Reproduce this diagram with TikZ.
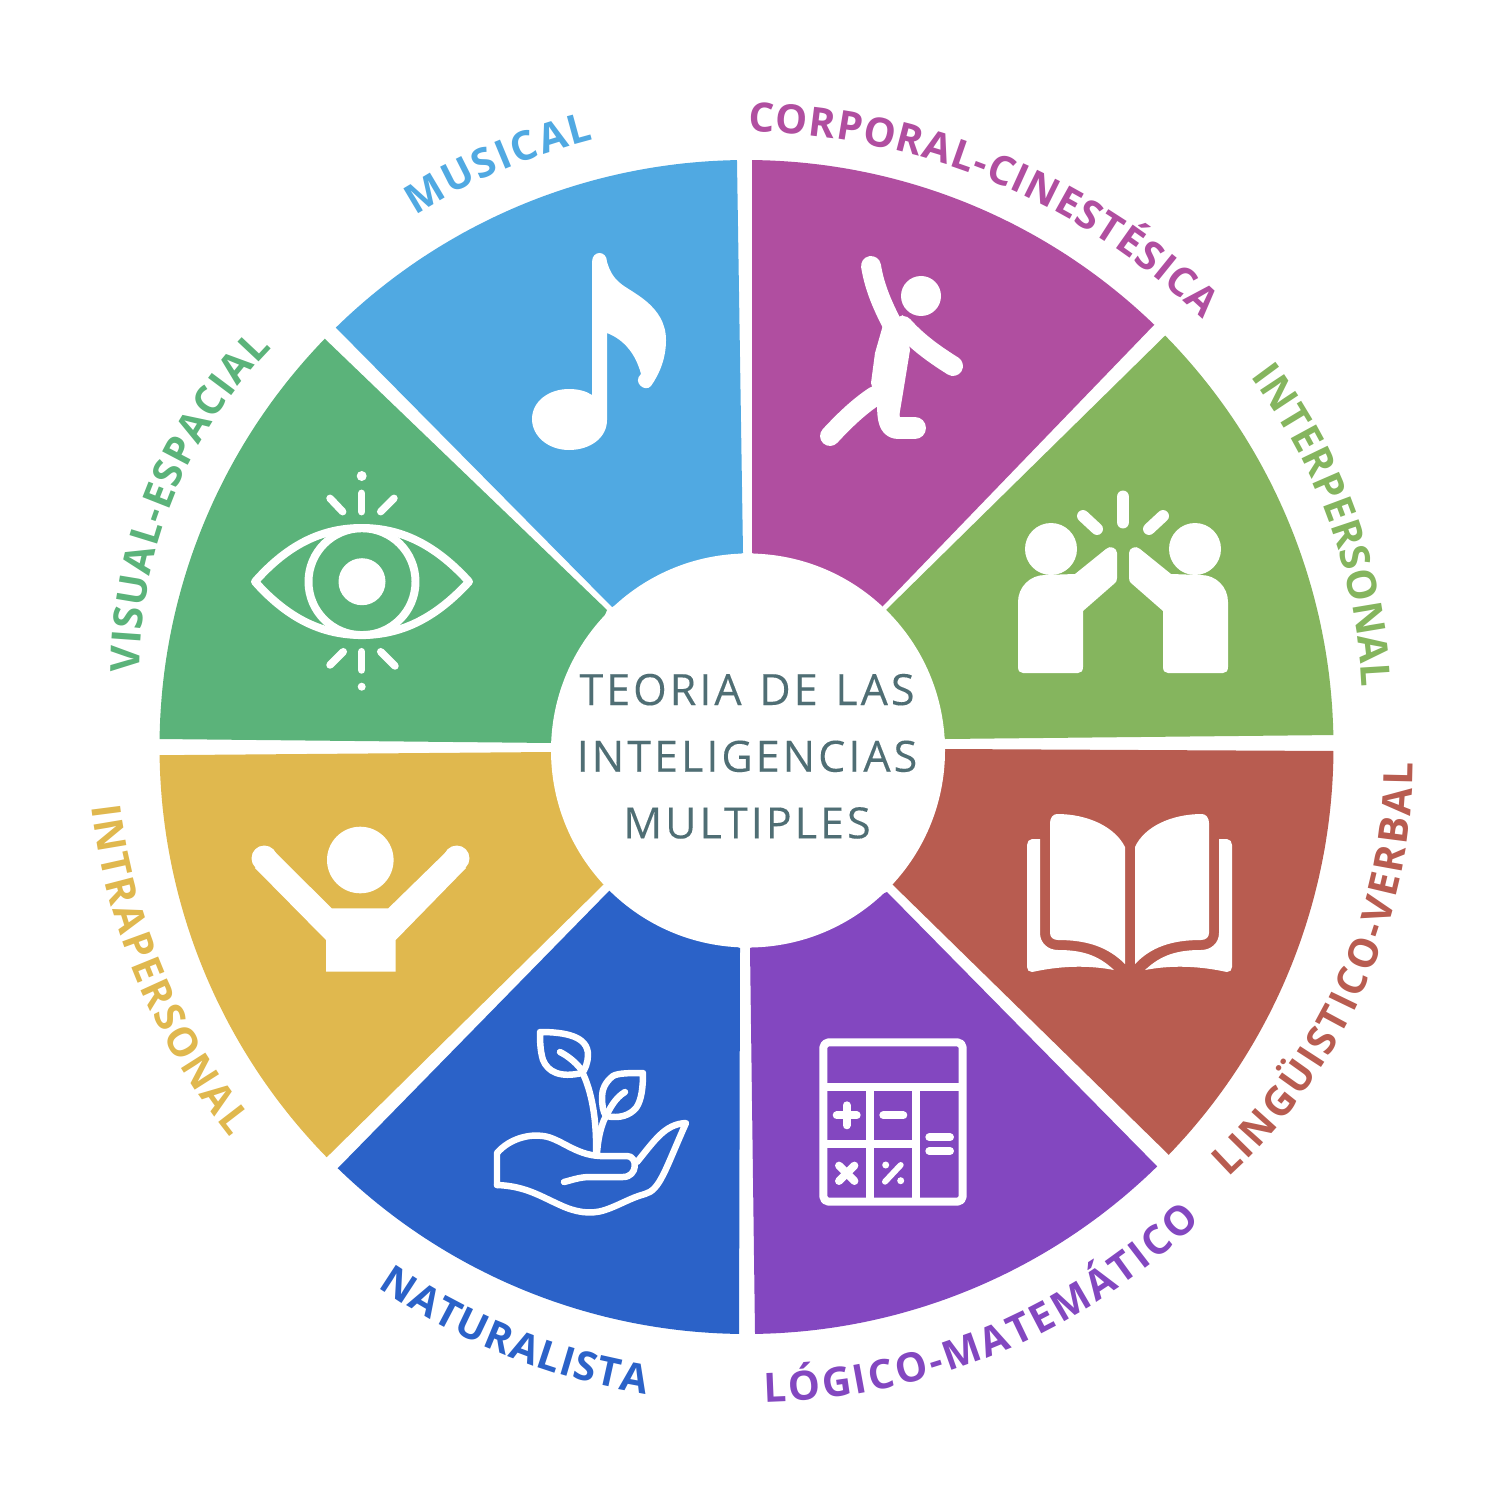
\documentclass[tikz,border=0pt]{standalone}
\usepackage{fontspec}
\usepackage{xcolor}
\usetikzlibrary{decorations.text}
\setmainfont{Open Sans}
\newfontfamily\labfont[Scale=1]{Open Sans}
\newfontfamily\midfont[LetterSpace=7,FakeBold=0.2]{Open Sans}
\definecolor{cmus}{HTML}{50A9E2}
\definecolor{ccor}{HTML}{B04EA0}
\definecolor{cint}{HTML}{85B55E}
\definecolor{clin}{HTML}{B85C50}
\definecolor{clog}{HTML}{8347C0}
\definecolor{cnat}{HTML}{2B62C8}
\definecolor{ctra}{HTML}{E0B84E}
\definecolor{cvis}{HTML}{5BB37A}
\definecolor{cmid}{HTML}{4F6E74}
\tikzset{
  ln/.style={draw=white,line width=#1*0.5669pt,line cap=round,line join=round},
  icon/.style={fill=white,draw=none},
  midtext/.style={text=cmid,anchor=base,inner sep=0pt,font=\midfont\fontsize{24.5pt}{28pt}\selectfont}
}
\newcommand{\sectorfill}[5]{%
  \fill[#1] plot[domain=#2:#3,samples=60,variable=\t] ({746.5+587*cos(\t)},{747+587*sin(\t)}) -- #4 -- #5 -- cycle;}
% colour, text, cx, cy, R, t1, t2
\newcommand{\arclabel}[7]{%
  \path[decorate,decoration={text along path,text align={fit to path},
    text={|\labfont\bfseries\fontsize{23pt}{26pt}\selectfont\color{#1}|#2}}]
    plot[domain=#6:#7,samples=80,variable=\t] ({#3+#5*cos(\t)},{#4+#5*sin(\t)});}
\begin{document}
\begin{tikzpicture}[x=0.02cm,y=-0.02cm]
\useasboundingbox (0,0) rectangle (1500,1500);
\fill[white] (0,0) rectangle (1500,1500);
% sectors
\sectorfill{cmus}{225.6}{269.07}{(743,553)}{(612,607)}
\sectorfill{ccor}{270.54}{314}{(882,607)}{(752,553)}
\sectorfill{cint}{315.5}{358.83}{(945,739)}{(886,610)}
\sectorfill{clin}{0.39}{44}{(892,884)}{(945,749)}
\sectorfill{clog}{45.6}{89.17}{(750,948)}{(887,892)}
\sectorfill{cnat}{90.73}{134.14}{(610,890)}{(740,948)}
\sectorfill{ctra}{135.66}{179.2}{(551,752)}{(604,884)}
\sectorfill{cvis}{180.78}{224.07}{(607,610)}{(552,743)}
\fill[white] (748,750.5) circle[radius=197];
% centre text
\node[midtext] (t1) at (747,705) {TEORIA\ \kern2pt DE\ \kern2pt LAS};
\node[midtext] (t2) at (747,771.7) {INTELIGENCIAS};
\node[midtext] (t3) at (747,838.3) {MULTIPLES};
% labels
\arclabel{cmus}{MUSICAL}{748}{748}{628}{238}{255.8}
\arclabel{ccor}{CORPORAL-CINESTÉSICA}{740}{796}{664}{270.7}{314.2}
\arclabel{cint}{INTERPERSONAL}{800}{715}{563}{323.1}{357.2}
\arclabel{clin}{LINGÜISTICO-VERBAL}{848}{760}{565}{47.7}{0.3}
\arclabel{clog}{LÓGICO-MATEMÁTICO}{748}{748}{655}{88.6}{46.2}
\arclabel{cnat}{NATURALISTA}{748}{748}{654}{124.5}{99}
\arclabel{ctra}{INTRAPERSONAL}{741.5}{727.7}{655}{173.1}{141.3}
\arclabel{cvis}{VISUAL-ESPACIAL}{600}{670.5}{460}{179.8}{224.5}
% music note
\fill[icon] (592,395) -- (592,262) .. controls (592,250) and (607,250) .. (607,262)
  .. controls (610,272) and (614,278) .. (620,283) .. controls (630,292) and (666,305) .. (666,340)
  .. controls (666,358) and (660,373) .. (651,386) .. controls (645,393) and (632,382) .. (641,374)
  .. controls (636,355) and (625,340) .. (607,333) -- (607,420) .. controls (607,438) and (590,450) .. (569,450)
  .. controls (548,450) and (532,436) .. (532,419) .. controls (532,402) and (548,389) .. (569,389)
  .. controls (578,389) and (586,391) .. (592,395) -- cycle;
% dancer
\fill[icon] (921,296) circle[radius=20];
\draw[ln=20] (871,266) .. controls (875,290) and (884,308) .. (893,326);
\draw[ln=20] (903,326) .. controls (918,343) and (937,356) .. (953,366);
\fill[icon] (883,325) -- (903,315) -- (910,350) -- (903,393) -- (899,417) -- (878,407) -- (871,383) -- (875,353) -- cycle;
\draw[ln=20] (830,436) .. controls (842,423) and (858,407) .. (875,396);
\draw[ln=22] (888,405) .. controls (888,420) and (890,428) .. (898,428) -- (915,428);
% high five
\fill[icon] (1051,549) circle[radius=26];
\fill[icon] (1195,549) circle[radius=26];
\draw[ln=13] (1123,497) -- (1123,522);
\draw[ln=12] (1083,516) -- (1097,529);
\draw[ln=12] (1163,516) -- (1149,529);
\fill[icon] (1018,667) -- (1018,602) .. controls (1018,587) and (1030,575) .. (1045,575) -- (1075,574) -- (1106,549)
  .. controls (1110,545) and (1117,548) .. (1117,553) -- (1117,578) .. controls (1117,581) and (1116,582) .. (1115,583)
  -- (1083,611) -- (1083,667) .. controls (1083,671) and (1081,673) .. (1078,673) -- (1023,673) .. controls (1020,673) and (1018,671) .. (1018,667) -- cycle;
\fill[icon] (1228,667) -- (1228,602) .. controls (1228,587) and (1216,575) .. (1201,575) -- (1171,574) -- (1140,549)
  .. controls (1136,545) and (1129,548) .. (1129,553) -- (1129,578) .. controls (1129,581) and (1130,582) .. (1131,583)
  -- (1163,611) -- (1163,667) .. controls (1163,671) and (1165,673) .. (1168,673) -- (1223,673) .. controls (1226,673) and (1228,671) .. (1228,667) -- cycle;
% book
\fill[icon] (1050,823) .. controls (1050,818) and (1053,814) .. (1057,814) .. controls (1088,814) and (1115,827) .. (1125,847)
  -- (1125,964) .. controls (1108,947) and (1087,940) .. (1058,940) .. controls (1053,940) and (1050,937) .. (1050,933) -- cycle;
\fill[icon] (1209,823) .. controls (1209,818) and (1206,814) .. (1202,814) .. controls (1171,814) and (1144,827) .. (1135,847)
  -- (1135,964) .. controls (1151,947) and (1172,940) .. (1201,940) .. controls (1206,940) and (1209,937) .. (1209,933) -- cycle;
\fill[icon] (1040,839) -- (1032,839) .. controls (1029,839) and (1027,842) .. (1027,845) -- (1027,967) .. controls (1027,970) and (1029,972) .. (1032,972)
  -- (1037,971) .. controls (1062,966) and (1088,965) .. (1114,970) .. controls (1098,955) and (1082,950) .. (1058,950)
  .. controls (1048,950) and (1040,943) .. (1040,933) -- cycle;
\fill[icon] (1219,839) -- (1227,839) .. controls (1230,839) and (1232,842) .. (1232,845) -- (1232,967) .. controls (1232,970) and (1230,972) .. (1227,972)
  -- (1222,971) .. controls (1197,966) and (1171,965) .. (1145,970) .. controls (1161,955) and (1177,950) .. (1201,950)
  .. controls (1211,950) and (1219,943) .. (1219,933) -- cycle;
% calculator
\draw[ln=8,rounded corners=3pt] (823.3,1042.3) rectangle (962.7,1201.7);
\draw[ln=8,line cap=butt] (823.3,1086.7) -- (962.7,1086.7);
\draw[ln=8,line cap=butt] (869.7,1086.7) -- (869.7,1201.7);
\draw[ln=8,line cap=butt] (916.3,1086.7) -- (916.3,1201.7);
\draw[ln=8,line cap=butt] (823.3,1144) -- (916.3,1144);
\draw[ln=8] (836.7,1115.3) -- (856.7,1115.3);
\draw[ln=8] (846.7,1105.3) -- (846.7,1125.3);
\draw[ln=8] (883.3,1115.3) -- (903.3,1115.3);
\draw[ln=8] (839,1165.6) -- (854.4,1181);
\draw[ln=8] (839,1181) -- (854.4,1165.6);
\draw[ln=6] (885,1181.7) -- (900.7,1165);
\fill[icon] (885.7,1165) circle[radius=3.5];
\fill[icon] (900.7,1180.7) circle[radius=3.5];
\draw[ln=8] (929.3,1137.3) -- (950,1137.3);
\draw[ln=8] (929.3,1151) -- (950,1151);
% plant
\draw[ln=6.5] (497,1185) -- (497,1153) .. controls (510,1138) and (530,1134) .. (543,1136)
  .. controls (560,1138) and (575,1155) .. (600,1156) -- (627,1156) .. controls (638,1156) and (638,1177) .. (623,1177)
  -- (590,1177) .. controls (580,1177) and (572,1180) .. (564,1182);
\draw[ln=6.5] (497,1185) .. controls (525,1186) and (540,1196) .. (560,1205) .. controls (575,1212) and (590,1215) .. (605,1210)
  .. controls (620,1205) and (630,1198) .. (645,1194) .. controls (660,1190) and (665,1170) .. (686,1123)
  .. controls (665,1124) and (655,1140) .. (637,1162);
\draw[ln=6.5] (596,1153) .. controls (597,1115) and (590,1085) .. (580,1068) .. controls (575,1062) and (568,1056) .. (560,1052);
\draw[ln=6.5] (540,1032) .. controls (565,1032) and (588,1036) .. (588,1055) .. controls (588,1062) and (585,1070) .. (582,1073)
  .. controls (560,1078) and (548,1072) .. (543,1060) .. controls (540,1050) and (540,1040) .. cycle;
\draw[ln=6.5] (643,1073) .. controls (630,1073) and (618,1073) .. (613,1076) .. controls (605,1082) and (602,1090) .. (602,1097)
  .. controls (602,1105) and (603,1112) .. (606,1116) .. controls (620,1119) and (630,1115) .. (636,1108)
  .. controls (642,1100) and (643,1085) .. (643,1073) -- cycle;
\draw[ln=6.5] (625,1092) .. controls (615,1098) and (610,1108) .. (604,1120) .. controls (600,1130) and (598,1140) .. (597,1153);
% person
\fill[icon] (360.3,860) circle[radius=33.3];
\fill[icon] (326,971.7) -- (326,940) -- (255,868) -- (273,850) -- (331.7,908.3) -- (388.3,908.3) -- (448,850) -- (466,868) -- (395.7,940) -- (395.7,971.7) -- cycle;
\fill[icon] (264.3,858.3) circle[radius=12.8];
\fill[icon] (456.7,858.3) circle[radius=12.8];
% eye
\draw[ln=8] (255,581.7) .. controls (290,542) and (325,528) .. (361.7,528) .. controls (398,528) and (433,542) .. (469,581.7)
  .. controls (433,621) and (398,635) .. (361.7,635) .. controls (325,635) and (290,621) .. (255,581.7) -- cycle;
\draw[ln=8] (362,581.7) circle[radius=53.5];
\fill[icon] (362,581.7) circle[radius=23.5];
\draw[ln=7.5] (361.7,493.3) -- (361.7,511.7);
\draw[ln=7.5] (330,498.3) -- (342.7,511.7);
\draw[ln=7.5] (394,498.3) -- (380.7,511.7);
\fill[icon] (361.7,476) circle[radius=5];
\draw[ln=7.5] (361.7,651.7) -- (361.7,670);
\draw[ln=7.5] (343.3,651.7) -- (330,665);
\draw[ln=7.5] (380.7,651.7) -- (395,666);
\fill[icon] (361.7,686.7) circle[radius=4];
\end{tikzpicture}
\end{document}
